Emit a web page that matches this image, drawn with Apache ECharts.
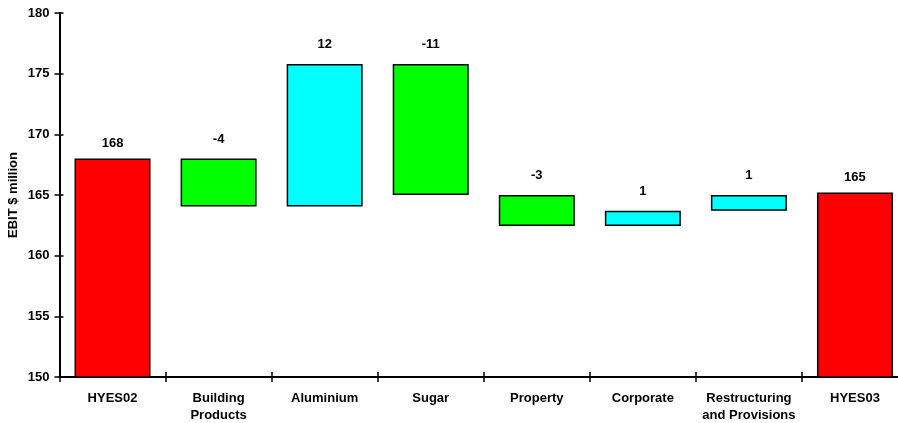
<!DOCTYPE html>
<html>
<head>
<meta charset="utf-8">
<style>
  html, body { margin: 0; padding: 0; background: #ffffff; }
  #chart { width: 898px; height: 423px; }
</style>
<script src="https://cdn.jsdelivr.net/npm/echarts@6/dist/echarts.min.js"></script>
</head>
<body>
<div id="chart"></div>
<script>
// EBIT bridge from HYES02 to HYES03 ($ million)
const categories = ['HYES02', 'Building\nProducts', 'Aluminium', 'Sugar', 'Property', 'Corporate', 'Restructuring\nand Provisions', 'HYES03'];
const openingTotal = 168.0;
const changes = [-3.95, 11.75, -10.8, -2.55, 1.25, 1.3];
const closingTotal = 165.2;
const yTicks = { min: 150, max: 180, interval: 5 };

const FONT = "'Liberation Sans', Arial, sans-serif";
const RED = '#ff0000', GREEN = '#00ff00', CYAN = '#00ffff';

// Build the floating-bar pieces: an invisible base plus a visible segment
const baseData = [];
const barData = [];
baseData.push(0);
barData.push({ value: openingTotal, kind: 'total', shown: openingTotal, itemStyle: { color: RED } });
let running = openingTotal;
changes.forEach(function (d) {
  const next = running + d;
  baseData.push(Math.min(running, next));
  barData.push({
    value: Math.abs(d),
    kind: 'delta',
    shown: d,
    itemStyle: { color: d < 0 ? GREEN : CYAN }
  });
  running = next;
});
baseData.push(0);
barData.push({ value: closingTotal, kind: 'total', shown: closingTotal, itemStyle: { color: RED } });

function roundLabel(v) {
  return (v < 0 ? '-' : '') + Math.round(Math.abs(v));
}

// per-item label distance: totals sit a little closer to the bar
barData.forEach(function (it) {
  it.label = {
    show: true,
    position: 'top',
    distance: it.kind === 'total' ? 9 : 13,
    formatter: roundLabel(it.shown)
  };
});

const chart = echarts.init(document.getElementById('chart'), null, { renderer: 'canvas' });

const labelStyle = { fontFamily: FONT, fontWeight: 'bold', fontSize: 13, color: '#000' };
const hiddenLine = { show: true, lineStyle: { color: 'rgba(0,0,0,0)', width: 0 } };

chart.setOption({
  animation: false,
  backgroundColor: '#ffffff',
  grid: { left: 59.5, right: -10, top: 13, bottom: 46, containLabel: false, outerBoundsMode: 'none' },
  xAxis: [
    {
      type: 'category',
      data: categories,
      position: 'bottom',
      axisLine: { show: true, lineStyle: { color: '#000', width: 2 } },
      axisTick: { show: true, alignWithLabel: false, length: 5, lineStyle: { color: '#000', width: 1.5 } },
      axisLabel: Object.assign({ margin: 12.5, lineHeight: 17, interval: 0 }, labelStyle),
      splitLine: { show: false }
    },
    {
      // inner half of the crossing category ticks
      type: 'category',
      data: categories,
      position: 'bottom',
      axisLine: hiddenLine,
      axisTick: { show: true, inside: true, length: 5, lineStyle: { color: '#000', width: 1.5 } },
      axisLabel: { show: false },
      splitLine: { show: false }
    }
  ],
  yAxis: [
    {
      type: 'value',
      min: yTicks.min,
      max: yTicks.max,
      interval: yTicks.interval,
      position: 'left',
      name: 'EBIT $ million',
      nameLocation: 'middle',
      nameGap: 40,
      nameMoveOverlap: false,
      nameRotate: 90,
      nameTextStyle: labelStyle,
      axisLine: { show: true, lineStyle: { color: '#000', width: 2 } },
      axisTick: { show: true, length: 5, lineStyle: { color: '#000', width: 1.5 } },
      axisLabel: Object.assign({ margin: 10 }, labelStyle),
      splitLine: { show: false }
    },
    {
      // inner half of the crossing value ticks
      type: 'value',
      min: yTicks.min,
      max: yTicks.max,
      interval: yTicks.interval,
      position: 'left',
      axisLine: hiddenLine,
      axisTick: { show: true, inside: true, length: 4, lineStyle: { color: '#000', width: 1.5 } },
      axisLabel: { show: false },
      splitLine: { show: false }
    }
  ],
  series: [
    {
      name: 'base',
      type: 'bar',
      stack: 'bridge',
      xAxisIndex: 0,
      yAxisIndex: 0,
      barWidth: 76,
      data: baseData,
      itemStyle: { color: 'transparent', borderWidth: 0 },
      emphasis: { disabled: true },
      silent: true
    },
    {
      name: 'EBIT',
      type: 'bar',
      stack: 'bridge',
      xAxisIndex: 0,
      yAxisIndex: 0,
      barWidth: 76,
      data: barData,
      itemStyle: { borderColor: '#000', borderWidth: 1.5 },
      label: Object.assign({ show: true, position: 'top' }, labelStyle)
    }
  ]
});
</script>
</body>
</html>
